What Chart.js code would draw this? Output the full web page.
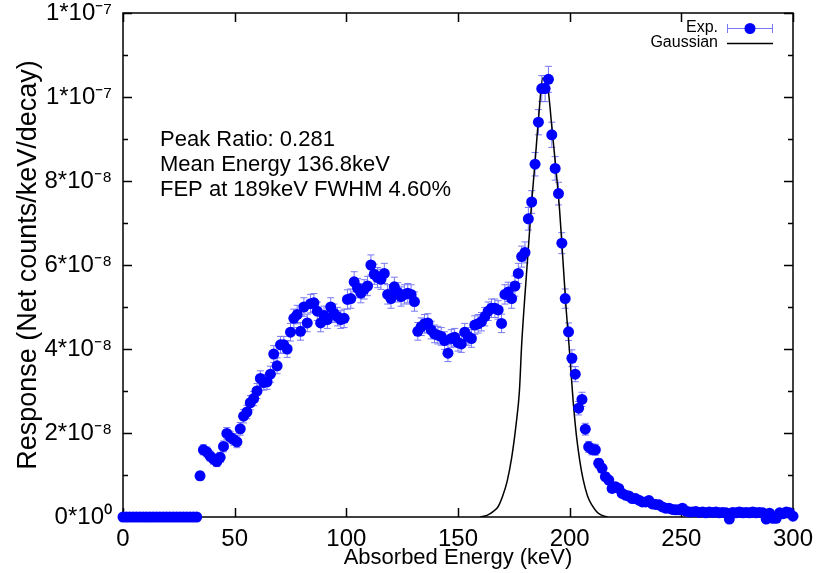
<!DOCTYPE html>
<html>
<head>
<meta charset="utf-8">
<script src="https://cdn.jsdelivr.net/npm/chart.js@4.4.1/dist/chart.umd.min.js"></script>
<style>
  html, body { margin: 0; padding: 0; background: #fff; }
  #chart { display: block; }
</style>
</head>
<body>
<canvas id="chart" width="819" height="573"></canvas>
<script>
// Absorbed energy bins (keV)
const energies = [
  0, 1.5, 3, 4.5, 6, 7.5, 9, 10.5, 12, 13.5,
  15, 16.5, 18, 19.5, 21, 22.5, 24, 25.5, 27, 28.5,
  30, 31.5, 33, 34.5, 36, 37.5, 39, 40.5, 42, 43.5,
  45, 46.5, 48, 49.5, 51, 52.5, 54, 55.5, 57, 58.5,
  60, 61.5, 63, 64.5, 66, 67.5, 69, 70.5, 72, 73.5,
  75, 76.5, 78, 79.5, 81, 82.5, 84, 85.5, 87, 88.5,
  90, 91.5, 93, 94.5, 96, 97.5, 99, 100.5, 102, 103.5,
  105, 106.5, 108, 109.5, 111, 112.5, 114, 115.5, 117, 118.5,
  120, 121.5, 123, 124.5, 126, 127.5, 129, 130.5, 132, 133.5,
  135, 136.5, 138, 139.5, 141, 142.5, 144, 145.5, 147, 148.5,
  150, 151.5, 153, 154.5, 156, 157.5, 159, 160.5, 162, 163.5,
  165, 166.5, 168, 169.5, 171, 172.5, 174, 175.5, 177, 178.5,
  180, 181.5, 183, 184.5, 186, 187.5, 189, 190.5, 192, 193.5,
  195, 196.5, 198, 199.5, 201, 202.5, 204, 205.5, 207, 208.5,
  210, 211.5, 213, 214.5, 216, 217.5, 219, 220.5, 222, 223.5,
  225, 226.5, 228, 229.5, 231, 232.5, 234, 235.5, 237, 238.5,
  240, 241.5, 243, 244.5, 246, 247.5, 249, 250.5, 252, 253.5,
  255, 256.5, 258, 259.5, 261, 262.5, 264, 265.5, 267, 268.5,
  270, 271.5, 273, 274.5, 276, 277.5, 279, 280.5, 282, 283.5,
  285, 286.5, 288, 289.5, 291, 292.5, 294, 295.5, 297, 298.5,
  300
];

// Measured response, in units of 1e-8 counts/keV/decay
const response = [
  0, 0, 0, 0, 0, 0, 0, 0, 0, 0,
  0, 0, 0, 0, 0, 0, 0, 0, 0, 0,
  0, 0, 0, 0.98, 1.6, 1.55, 1.45, 1.38, 1.32, 1.42,
  1.68, 1.99, 1.9, 1.85, 1.79, 2.1, 2.4, 2.5, 2.72, 2.82,
  3.0, 3.3, 3.2, 3.22, 3.4, 3.88, 3.6, 4.1, 4.1, 4.0,
  4.4, 4.73, 4.82, 4.42, 5.0, 4.62, 5.08, 5.1, 4.9, 4.62,
  4.8, 4.7, 5.0, 4.85, 4.77, 4.7, 4.73, 5.18, 5.2, 5.6,
  5.45, 5.33, 5.42, 5.5, 6.0, 5.78, 5.7, 5.66, 5.8, 5.3,
  5.2, 5.48, 5.35, 5.25, 5.3, 5.33, 5.3, 5.13, 4.42, 4.53,
  4.6, 4.62, 4.45, 4.36, 4.33, 4.3, 4.2, 3.9, 4.25, 4.28,
  4.15, 4.12, 4.4, 4.3, 4.25, 4.57, 4.6, 4.65, 4.77, 4.9,
  4.97, 4.97, 4.93, 4.61, 5.3, 5.36, 5.2, 5.5, 5.8, 6.2,
  6.3, 7.1, 7.5, 8.4, 9.4, 10.2, 10.2, 10.42, 9.1, 8.3,
  7.7, 6.52, 5.2, 4.41, 3.78, 3.4, 2.59, 2.8, 2.09, 1.67,
  1.61, 1.6, 1.28, 1.16, 0.96, 0.88, 0.68, 0.72, 0.68, 0.56,
  0.52, 0.5, 0.44, 0.44, 0.4, 0.36, 0.36, 0.39, 0.31, 0.3,
  0.29, 0.24, 0.21, 0.21, 0.18, 0.17, 0.17, 0.21, 0.14, 0.12,
  0.12, 0.13, 0.11, 0.12, 0.1, 0.12, 0.11, 0.12, 0.1, 0.11,
  0.1, -0.05, 0.11, 0.1, 0.12, 0.1, 0.11, 0.1, 0.12, 0.1,
  0.11, 0.1, -0.05, 0.09, -0.03, -0.03, 0.1, 0.08, 0.12, 0.1,
  0.02
];

// Error on each point (same units)
const responseErr = [
  0, 0, 0, 0, 0, 0, 0, 0, 0, 0,
  0, 0, 0, 0, 0, 0, 0, 0, 0, 0,
  0, 0, 0, 0.1, 0.12, 0.12, 0.12, 0.12, 0.12, 0.12,
  0.13, 0.14, 0.14, 0.14, 0.14, 0.15, 0.16, 0.16, 0.17, 0.17,
  0.18, 0.18, 0.18, 0.18, 0.19, 0.2, 0.19, 0.2, 0.2, 0.2,
  0.21, 0.22, 0.22, 0.21, 0.22, 0.21, 0.22, 0.22, 0.22, 0.21,
  0.22, 0.21, 0.22, 0.22, 0.22, 0.21, 0.22, 0.23, 0.23, 0.24,
  0.23, 0.23, 0.23, 0.23, 0.24, 0.24, 0.24, 0.24, 0.24, 0.23,
  0.23, 0.23, 0.23, 0.23, 0.23, 0.23, 0.23, 0.23, 0.21, 0.21,
  0.22, 0.22, 0.21, 0.21, 0.21, 0.21, 0.21, 0.2, 0.21, 0.21,
  0.2, 0.2, 0.21, 0.21, 0.21, 0.22, 0.22, 0.22, 0.22, 0.22,
  0.22, 0.22, 0.22, 0.22, 0.23, 0.23, 0.23, 0.24, 0.24, 0.25,
  0.25, 0.27, 0.27, 0.28, 0.3, 0.31, 0.31, 0.31, 0.3, 0.28,
  0.27, 0.25, 0.23, 0.21, 0.2, 0.18, 0.16, 0.17, 0.14, 0.13,
  0.13, 0.13, 0.11, 0.1, 0.1, 0.09, 0.08, 0.08, 0.08, 0.07,
  0.07, 0.07, 0.06, 0.06, 0.06, 0.06, 0.06, 0.06, 0.05, 0.05,
  0.05, 0.05, 0.05, 0.05, 0.04, 0.04, 0.04, 0.05, 0.04, 0.04,
  0.04, 0.04, 0.04, 0.04, 0.04, 0.04, 0.04, 0.04, 0.04, 0.04,
  0.04, 0.03, 0.04, 0.04, 0.04, 0.04, 0.04, 0.04, 0.04, 0.04,
  0.04, 0.04, 0.03, 0.04, 0.03, 0.03, 0.04, 0.04, 0.04, 0.04,
  0.02
];

// Gaussian fit to the full-energy peak
const gaussE = [160, 163, 166, 168, 170, 172, 174, 176, 177.5, 178.5, 180, 181.5, 183, 184.5, 186, 188,
  190, 192, 194, 195.5, 197, 198.5, 200, 201.5, 203, 204.5, 206, 208, 210, 212, 214, 217];
const gaussY = [0, 0.04, 0.14, 0.25, 0.5, 0.85, 1.4, 2.2, 3.0, 4.1, 5.3, 6.4, 7.5, 8.45, 9.45, 10.45,
  10.3, 9.3, 8.2, 7.3, 6.1, 4.9, 3.9, 2.8, 1.95, 1.35, 0.9, 0.5, 0.28, 0.13, 0.05, 0];

const xTickValues = [0, 50, 100, 150, 200, 250, 300];
const yTickValues = [0, 2, 4, 6, 8, 10, 12];
const yTickLabels = ['0*10\u2070', '2*10\u207B\u2078', '4*10\u207B\u2078', '6*10\u207B\u2078',
  '8*10\u207B\u2078', '1*10\u207B\u2077', '1*10\u207B\u2077'];
const yMinorTicks = [1, 3, 5, 7, 9, 11];

const annotationLines = ['Peak Ratio: 0.281', 'Mean Energy 136.8keV', 'FEP at 189keV FWHM 4.60%'];

const FONT = "'Liberation Sans', Arial, Helvetica, sans-serif";
const BLUE = '#0000ff';
const ERR_BLUE = '#7878f4';

Chart.defaults.font.family = FONT;
Chart.defaults.color = '#000';

// error bars under the points
const errorBars = {
  id: 'errorBars',
  beforeDatasetsDraw(chart) {
    const ctx = chart.ctx;
    const xs = chart.scales.x, ys = chart.scales.y;
    ctx.save();
    ctx.strokeStyle = ERR_BLUE;
    ctx.lineWidth = 1;
    response.forEach((r, i) => {
      const e = responseErr[i];
      if (!e) return;
      const px = xs.getPixelForValue(energies[i]);
      const top = ys.getPixelForValue(r + e);
      const bot = ys.getPixelForValue(r - e);
      ctx.beginPath();
      ctx.moveTo(px, top); ctx.lineTo(px, bot);
      ctx.moveTo(px - 3.5, top); ctx.lineTo(px + 3.5, top);
      ctx.moveTo(px - 3.5, bot); ctx.lineTo(px + 3.5, bot);
      ctx.stroke();
    });
    ctx.restore();
  }
};

// gnuplot style border with inward ticks
const frame = {
  id: 'frame',
  beforeDatasetsDraw(chart) {
    const ctx = chart.ctx;
    const {left, right, top, bottom} = chart.chartArea;
    const xs = chart.scales.x, ys = chart.scales.y;
    ctx.save();
    ctx.strokeStyle = '#000';
    ctx.lineWidth = 1.5;
    ctx.strokeRect(left, top, right - left, bottom - top);
    ctx.beginPath();
    xTickValues.forEach(v => {
      const px = Math.round(xs.getPixelForValue(v)) + 0.5;
      ctx.moveTo(px, bottom); ctx.lineTo(px, bottom - 9);
      ctx.moveTo(px, top); ctx.lineTo(px, top + 9);
    });
    yTickValues.forEach(v => {
      const py = Math.round(ys.getPixelForValue(v)) + 0.5;
      ctx.moveTo(left, py); ctx.lineTo(left + 9, py);
      ctx.moveTo(right, py); ctx.lineTo(right - 9, py);
    });
    yMinorTicks.forEach(v => {
      const py = Math.round(ys.getPixelForValue(v)) + 0.5;
      ctx.moveTo(left, py); ctx.lineTo(left + 5, py);
      ctx.moveTo(right, py); ctx.lineTo(right - 5, py);
    });
    ctx.stroke();
    ctx.restore();
  },
  afterDraw(chart) {
    const ctx = chart.ctx;
    ctx.save();
    // annotation text
    ctx.fillStyle = '#000';
    ctx.font = '22px ' + FONT;
    ctx.textAlign = 'left';
    ctx.textBaseline = 'alphabetic';
    annotationLines.forEach((t, i) => ctx.fillText(t, 160, 146 + i * 25));

    // legend
    ctx.font = '16px ' + FONT;
    ctx.textAlign = 'right';
    ctx.textBaseline = 'middle';
    ctx.fillText('Exp.', 718, 28);
    ctx.fillText('Gaussian', 718, 43);
    ctx.strokeStyle = ERR_BLUE;
    ctx.lineWidth = 1;
    ctx.beginPath();
    ctx.moveTo(727, 28.5); ctx.lineTo(773, 28.5);
    ctx.moveTo(727.5, 24); ctx.lineTo(727.5, 33);
    ctx.moveTo(772.5, 24); ctx.lineTo(772.5, 33);
    ctx.stroke();
    ctx.fillStyle = BLUE;
    ctx.beginPath();
    ctx.arc(750, 28.5, 5.5, 0, Math.PI * 2);
    ctx.fill();
    ctx.strokeStyle = '#000';
    ctx.lineWidth = 1.5;
    ctx.beginPath();
    ctx.moveTo(727, 43.5); ctx.lineTo(773, 43.5);
    ctx.stroke();
    ctx.restore();
  }
};

new Chart(document.getElementById('chart'), {
  type: 'scatter',
  data: {
    datasets: [
      {
        label: 'Exp.',
        data: energies.map((e, i) => ({x: e, y: response[i]})),
        backgroundColor: BLUE,
        borderColor: BLUE,
        pointRadius: 5.5,
        pointBorderWidth: 0,
        showLine: false,
        clip: false
      },
      {
        label: 'Gaussian',
        data: gaussE.map((e, i) => ({x: e, y: gaussY[i]})),
        borderColor: '#000',
        borderWidth: 1.5,
        pointRadius: 0,
        showLine: true,
        cubicInterpolationMode: 'monotone',
        fill: false
      }
    ]
  },
  options: {
    responsive: false,
    animation: false,
    devicePixelRatio: 1,
    layout: { padding: { top: 13, right: 26, left: 0, bottom: 0 } },
    plugins: { legend: { display: false }, tooltip: { enabled: false } },
    scales: {
      x: {
        type: 'linear', min: 0, max: 300,
        afterBuildTicks: s => { s.ticks = xTickValues.map(v => ({value: v})); },
        ticks: { font: { size: 24 }, color: '#000', padding: 0, maxRotation: 0, autoSkip: false },
        grid: { display: false },
        border: { display: false },
        title: { display: true, text: 'Absorbed Energy (keV)', font: { size: 22 }, color: '#000',
                 padding: { top: 0, bottom: 2 } },
        afterFit: s => { s.height = 56; s.paddingLeft = 0; s.paddingRight = 0; }
      },
      y: {
        type: 'linear', min: 0, max: 12,
        afterBuildTicks: s => { s.ticks = yTickValues.map(v => ({value: v})); },
        ticks: { callback: (v, i) => yTickLabels[i], font: { size: 24 }, color: '#000', padding: 3, autoSkip: false },
        grid: { display: false },
        border: { display: false },
        title: { display: true, text: 'Response (Net counts/keV/decay)', font: { size: 27 }, color: '#000',
                 padding: { top: 12, bottom: 0 } },
        afterFit: s => { s.width = 123; s.paddingTop = 0; s.paddingBottom = 0; }
      }
    }
  },
  plugins: [errorBars, frame]
});
</script>
</body>
</html>
